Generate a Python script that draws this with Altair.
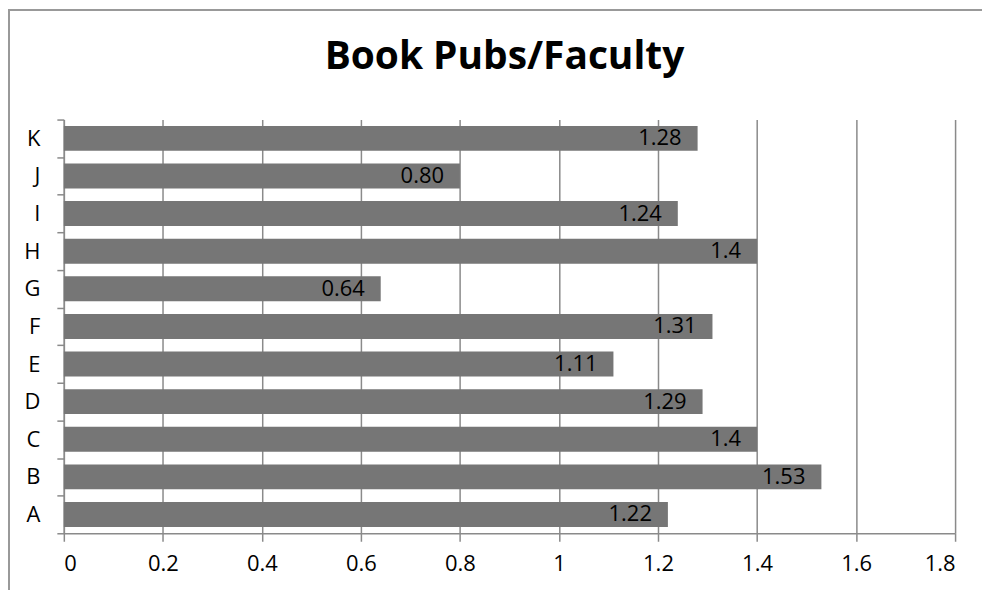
import altair as alt
import pandas as pd

categories = ["A", "B", "C", "D", "E", "F", "G", "H", "I", "J", "K"]
values = [1.22, 1.53, 1.4, 1.29, 1.11, 1.31, 0.64, 1.4, 1.24, 0.80, 1.28]
labels = ["1.22", "1.53", "1.4", "1.29", "1.11", "1.31", "0.64", "1.4", "1.24", "0.80", "1.28"]
x_ticks = [0, 0.2, 0.4, 0.6, 0.8, 1.0, 1.2, 1.4, 1.6, 1.8]
title_text = "Book Pubs/Faculty"

df = pd.DataFrame({"cat": categories, "val": values, "lab": labels})

FONT = "Open Sans"
GRAY = "#8a8a8a"
order = list(reversed(categories))

y_enc = alt.Y(
    "cat:N",
    sort=order,
    scale=alt.Scale(paddingInner=0, paddingOuter=0),
    axis=alt.Axis(
        title=None,
        tickBand="extent",
        tickSize=7,
        tickColor=GRAY,
        tickWidth=1.5,
        domainColor=GRAY,
        domainWidth=1.5,
        labelFont=FONT,
        labelFontSize=22,
        labelColor="#000000",
        labelPadding=17,
        grid=False,
    ),
)
x_enc = alt.X(
    "val:Q",
    scale=alt.Scale(domain=[0, 1.8], nice=False),
    axis=alt.Axis(
        title=None,
        values=x_ticks,
        format=".1~f",
        tickSize=8,
        tickColor=GRAY,
        tickWidth=1.5,
        domainColor=GRAY,
        domainWidth=1.5,
        grid=True,
        gridColor=GRAY,
        gridWidth=1.5,
        labelFont=FONT,
        labelFontSize=22,
        labelColor="#000000",
        labelPadding=12,
    ),
)

bars = alt.Chart(df).mark_bar(color="#767676", size=25).encode(x=x_enc, y=y_enc)
text = alt.Chart(df).mark_text(
    align="right", baseline="middle", dx=-16, font=FONT, fontSize=22, color="#000000"
).encode(x="val:Q", y=alt.Y("cat:N", sort=order), text="lab:N")

one = pd.DataFrame({"t": [title_text]})
title = alt.Chart(one).mark_text(
    align="center", baseline="alphabetic", font=FONT, fontSize=39, fontWeight="bold", color="#000000"
).encode(x=alt.value(442), y=alt.value(-51), text="t:N")

left_border = alt.Chart(one).mark_rule(color="#999999", strokeWidth=2).encode(
    x=alt.value(-55), y=alt.value(-111), y2=alt.value(480)
)
top_border = alt.Chart(one).mark_rule(color="#999999", strokeWidth=2).encode(
    x=alt.value(-56), x2=alt.value(921), y=alt.value(-110)
)

chart = (
    alt.layer(bars, text, title, left_border, top_border)
    .properties(
        width=894,
        height=415,
        padding={"left": 56, "top": 111, "right": 27, "bottom": 56},
        autosize=alt.AutoSizeParams(type="none"),
        background="#ffffff",
    )
    .configure_view(stroke=None)
)

chart.save("out.html", embed_options={"renderer": "svg", "actions": False})
